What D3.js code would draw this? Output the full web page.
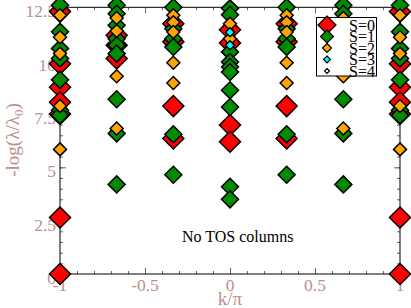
<!DOCTYPE html>
<html>
<head>
<meta charset="utf-8">
<script src="https://cdn.jsdelivr.net/npm/d3@7"></script>
<style>
  body { margin: 0; background: #fff; }
  svg { display: block; font-family: "Liberation Serif", "DejaVu Serif", serif; }
</style>
</head>
<body>
<svg width="411" height="308"></svg>
<script>
/// data: k/pi columns, each level is [ -log(lambda/lambda0), S ]
var kValues = [-1, -0.6667, -0.3333, 0, 0.3333, 0.6667, 1];

var levelsEdge = [
  [12.3, 0], [9.85, 0], [8.75, 0], [8.05, 0], [7.5, 0], [2.65, 0], [0, 0],
  [12.6, 1], [11.35, 1], [10.57, 1], [10.1, 1], [9.1, 1], [7.68, 1], [7.44, 1],
  [12.13, 2], [11.1, 2], [10.33, 2], [7.87, 2], [5.84, 2]
];
var levelsTwoThirds = [
  [11.19, 0], [10.72, 0], [10.1, 0],
  [12.6, 1], [12.2, 1], [11.66, 1], [11.03, 1], [10.72, 1], [10.33, 1], [8.19, 1], [6.59, 1], [4.2, 1],
  [12.0, 2], [11.39, 2], [9.27, 2], [6.82, 2]
];
var levelsOneThird = [
  [11.73, 0], [10.88, 0], [7.87, 0], [6.35, 0],
  [12.5, 1], [11.5, 1], [11.03, 1], [10.64, 1], [6.55, 1], [4.65, 1],
  [12.13, 2], [11.8, 2], [11.34, 2], [9.9, 2], [8.95, 2]
];
var levelsZero = [
  [11.45, 0], [10.83, 0], [6.98, 0], [6.2, 0],
  [12.45, 1], [12.15, 1], [10.41, 1], [9.94, 1], [9.7, 1], [9.47, 1], [8.61, 1], [7.83, 1], [4.09, 1], [3.5, 1],
  [11.73, 2], [11.03, 2],
  [11.33, 3], [10.72, 3]
];
var columnLevels = [levelsEdge, levelsTwoThirds, levelsOneThird, levelsZero,
                    levelsOneThird, levelsTwoThirds, levelsEdge];

var spinLabels = ["S=0", "S=1", "S=2", "S=3", "S=4"];
var spinColors = ["#ff0000", "#008b00", "#ffa500", "#00ffff", "#ffffff"];
var spinSizes = [10.5, 8.5, 6.5, 4.5, 3];
var legendSizes = [9, 6.5, 4.5, 3.5, 2.5];

var xMajor = [-1, -0.5, 0, 0.5, 1];
var xMinor = d3.range(-1, 1.0001, 0.1);
var yMajor = [0, 2.5, 5, 7.5, 10, 12.5];
var yMinor = d3.range(0, 12.5001, 0.5);

/// layout
var svg = d3.select("svg");
var plotLeft = 60, plotRight = 400, plotTop = 7.3, plotBottom = 274;
var x = d3.scaleLinear().domain([-1, 1]).range([plotLeft, plotRight]);
var y = d3.scaleLinear().domain([0, 12.5]).range([plotBottom, plotTop]);
var labelColor = "#bc8f8f";

function diamond(r) {
  return "M0," + (-r) + "L" + r + ",0L0," + r + "L" + (-r) + ",0Z";
}

/// axes, ticks drawn inward on all four sides
function addAxis(axis, tr, values, size) {
  var g = svg.append("g").attr("transform", tr)
    .call(axis.tickValues(values).tickSize(size).tickFormat(""));
  g.select(".domain").remove();
  g.selectAll(".tick line").attr("stroke", "#666");
  return g;
}
addAxis(d3.axisBottom(x), "translate(0," + plotBottom + ")", xMajor, -6);
addAxis(d3.axisBottom(x), "translate(0," + plotBottom + ")", xMinor, -3);
addAxis(d3.axisTop(x), "translate(0," + plotTop + ")", xMajor, -6);
addAxis(d3.axisTop(x), "translate(0," + plotTop + ")", xMinor, -3);
addAxis(d3.axisLeft(y), "translate(" + plotLeft + ",0)", yMajor, -6);
addAxis(d3.axisLeft(y), "translate(" + plotLeft + ",0)", yMinor, -3);
addAxis(d3.axisRight(y), "translate(" + plotRight + ",0)", yMajor, -6);
addAxis(d3.axisRight(y), "translate(" + plotRight + ",0)", yMinor, -3);

svg.append("rect")
  .attr("x", plotLeft).attr("y", plotTop)
  .attr("width", plotRight - plotLeft).attr("height", plotBottom - plotTop)
  .attr("fill", "none").attr("stroke", "#000").attr("stroke-width", 1);

// tick labels
svg.append("g").selectAll("text")
  .data(xMajor)
  .enter().append("text")
    .attr("x", function(d) { return x(d); })
    .attr("y", plotBottom + 17)
    .attr("text-anchor", "middle")
    .attr("font-size", 17.5)
    .attr("fill", labelColor)
    .text(function(d) { return String(d); });

svg.append("g").selectAll("text")
  .data(yMajor)
  .enter().append("text")
    .attr("x", 56)
    .attr("y", function(d) { return y(d) + 10; })
    .attr("text-anchor", "end")
    .attr("font-size", 17.5)
    .attr("fill", labelColor)
    .text(function(d) { return String(d); });

// axis titles
svg.append("text")
  .attr("x", (plotLeft + plotRight) / 2).attr("y", 305)
  .attr("text-anchor", "middle")
  .attr("font-size", 19)
  .attr("fill", labelColor)
  .text("k/π");

var ylab = svg.append("text")
  .attr("transform", "translate(19,140) rotate(-90)")
  .attr("text-anchor", "middle")
  .attr("font-size", 19)
  .attr("fill", labelColor);
ylab.append("tspan").text("-log(λ/λ");
ylab.append("tspan").attr("font-size", 13).attr("dy", 4).text("0");
ylab.append("tspan").attr("dy", -4).text(")");

/// the levels, lower S first so higher S sits on top
var points = [];
kValues.forEach(function(k, i) {
  columnLevels[i].forEach(function(l) {
    points.push({k: k, v: l[0], s: l[1]});
  });
});
points.sort(function(a, b) { return a.s - b.s; });

svg.append("g").selectAll("path")
  .data(points)
  .enter().append("path")
    .attr("transform", function(d) { return "translate(" + x(d.k) + "," + y(d.v) + ")"; })
    .attr("d", function(d) { return diamond(spinSizes[d.s]); })
    .attr("fill", function(d) { return spinColors[d.s]; })
    .attr("stroke", "#000")
    .attr("stroke-width", 1.5);

svg.append("text")
  .attr("x", 182).attr("y", 242)
  .attr("font-size", 16)
  .attr("fill", "#000")
  .text("No TOS columns");

/// legend
var legend = svg.append("g");
legend.append("rect")
  .attr("x", 316.5).attr("y", 17.5)
  .attr("width", 60).attr("height", 58.5)
  .attr("fill", "#fff").attr("stroke", "#000").attr("stroke-width", 1);
var row = legend.selectAll("g.row")
  .data(spinLabels)
  .enter().append("g")
    .attr("class", "row")
    .attr("transform", function(d, i) { return "translate(327," + (25 + i * 11.5) + ")"; });
row.append("path")
  .attr("d", function(d, i) { return diamond(legendSizes[i]); })
  .attr("fill", function(d, i) { return spinColors[i]; })
  .attr("stroke", "#000")
  .attr("stroke-width", 1.2);
row.append("text")
  .attr("x", 22).attr("y", 5.5)
  .attr("font-size", 16)
  .attr("fill", "#000")
  .text(function(d) { return d; });
</script>
</body>
</html>
